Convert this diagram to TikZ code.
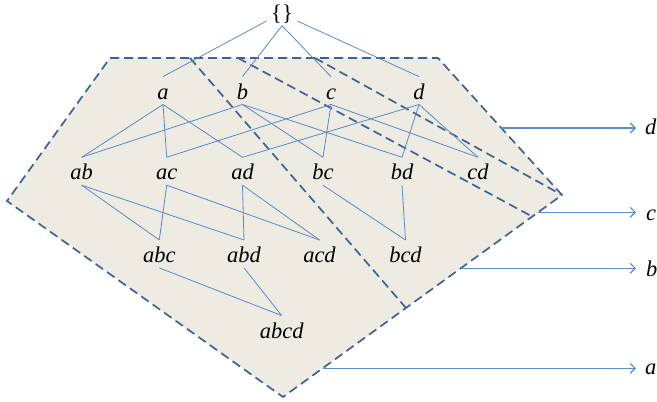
\documentclass[tikz,border=0pt]{standalone}
\usepackage{fontspec}
\setmainfont{Liberation Serif}
\usetikzlibrary{arrows.meta}
\definecolor{regfill}{HTML}{EDEBE2}
\definecolor{regline}{HTML}{3D6394}
\definecolor{edgecol}{HTML}{5A8AC8}
\begin{document}
\begin{tikzpicture}[x=1pt,y=1pt,
  lbl/.style={font=\fontsize{22.5}{27}\selectfont\itshape, text height=22.5pt, text depth=5pt, inner sep=0pt, anchor=base},
  side/.style={font=\fontsize{22.5}{27}\selectfont\itshape, inner sep=0pt, anchor=base west},
  hasse/.style={draw=edgecol, line width=0.8pt},
  region/.style={draw=regline, line width=1.7pt, dash pattern=on 9pt off 5pt},
  pointer/.style={draw=edgecol, line width=1.1pt, -{Straight Barb[length=5pt,width=10pt]}}]
\useasboundingbox (0,0) rectangle (657,402);
% outer region
\coordinate (p1) at (110,344);
\coordinate (p2) at (438,344);
\coordinate (p3) at (562,207);
\coordinate (p4) at (283,5);
\coordinate (p5) at (7,201);
\fill[regfill] (p1)--(p2)--(p3)--(p4)--(p5)--cycle;
\draw[region] (p1)--(p2)--(p3)--(p4)--(p5)--cycle;
% inner boundaries
\coordinate (l1s) at (190,344);
\coordinate (l1e) at (406,94);
\coordinate (l2s) at (238,344);
\coordinate (l2e) at (533,185);
\coordinate (l3s) at (315,344);
\draw[region] (l1s) -- (l1e);
\draw[region] (l2s) -- (l2e);
\draw[region] (l3s) -- (p3);
% nodes
\node[font=\fontsize{22.5}{27}\selectfont, text height=22.5pt, text depth=5pt, inner ysep=0pt, inner xsep=4.5pt, anchor=base] (e) at (282,381.5) {\{\}};
\node[lbl] (a) at (163,302.7) {a};
\node[lbl] (b) at (242.5,302.7) {b};
\node[lbl] (c) at (331,302.7) {c};
\node[lbl] (d) at (419,302.7) {d};
\node[lbl] (ab) at (81.7,222) {ab};
\node[lbl] (ac) at (166.7,222) {ac};
\node[lbl] (ad) at (242.5,222) {ad};
\node[lbl] (bc) at (323,222) {bc};
\node[lbl] (bd) at (402,222) {bd};
\node[lbl] (cd) at (478,222) {cd};
\node[lbl] (abc) at (159.3,139.3) {abc};
\node[lbl] (abd) at (244,139.3) {abd};
\node[lbl] (acd) at (319.5,139.3) {acd};
\node[lbl] (bcd) at (405.5,139.3) {bcd};
\node[lbl] (abcd) at (281.7,63.7) {abcd};
% Hasse edges
\draw[hasse] (e.211) -- (a.north);
\draw[hasse] (e.south) -- (b.north);
\draw[hasse] (e.south) -- (c.north);
\draw[hasse] (e.329) -- (d.north);
\draw[hasse] (a.south) -- (ab.north);
\draw[hasse] (a.south) -- (ac.north);
\draw[hasse] (a.south) -- (ad.north);
\draw[hasse] (b.south) -- (ab.north);
\draw[hasse] (b.south) -- (bc.north);
\draw[hasse] (b.south) -- (bd.north);
\draw[hasse] (c.south) -- (ac.north);
\draw[hasse] (c.south) -- (bc.north);
\draw[hasse] (c.south) -- (cd.north);
\draw[hasse] (d.south) -- (ad.north);
\draw[hasse] (d.south) -- (bd.north);
\draw[hasse] (d.south) -- (cd.north);
\draw[hasse] (ab.south) -- (abc.north);
\draw[hasse] (ab.south) -- (abd.north);
\draw[hasse] (ac.south) -- (abc.north);
\draw[hasse] (ac.south) -- (acd.north);
\draw[hasse] (ad.south) -- (abd.north);
\draw[hasse] (ad.south) -- (acd.north);
\draw[hasse] (bc.south) -- (bcd.north);
\draw[hasse] (bd.south) -- (bcd.north);
\draw[hasse] (abc.south) -- (abcd.north);
\draw[hasse] (abd.south) -- (abcd.north);
% region pointers
\coordinate (dS) at (501.4,274);
\coordinate (dE) at (636,274);
\coordinate (cS) at (538.1,189.7);
\coordinate (cE) at (636,189.7);
\coordinate (bS) at (460.8,133.7);
\coordinate (bE) at (636,133.7);
\coordinate (aS) at (322.6,33.7);
\coordinate (aE) at (636,33.7);
\draw[pointer] (dS) -- (dE);
\draw[pointer] (cS) -- (cE);
\draw[pointer] (bS) -- (bE);
\draw[pointer] (aS) -- (aE);
\node[side] (ld) at (645,267) {d};
\node[side] (lc) at (646,181.3) {c};
\node[side] (lb) at (646,125.3) {b};
\node[side] (la) at (645,27) {a};
\end{tikzpicture}
\end{document}
